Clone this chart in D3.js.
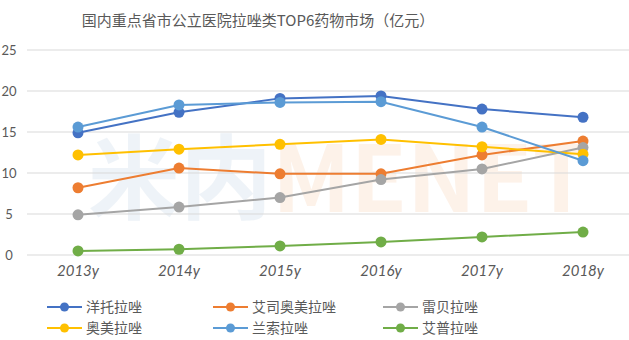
<!DOCTYPE html>
<html lang="zh">
<head>
  <meta charset="UTF-8">
  <title>拉唑类TOP6</title>
  <style>
    body { margin: 0; background: #fff; font-family: "Noto Sans CJK SC", sans-serif; }
    .grid line { stroke: #d9d9d9; stroke-width: 1; }
    .axis text { fill: #595959; }
    .legend text { fill: #595959; font-size: 14px; }
  </style>
  <script src="https://d3js.org/d3.v7.min.js"></script>
</head>
<body>
<div id="chart"></div>
<script>
var years = ["2013y", "2014y", "2015y", "2016y", "2017y", "2018y"];
var yTicks = [0, 5, 10, 15, 20, 25];
var names = ["洋托拉唑", "艾司奥美拉唑", "雷贝拉唑", "奥美拉唑", "兰索拉唑", "艾普拉唑"];
var colors = ["#4472c4", "#ed7d31", "#a5a5a5", "#ffc000", "#5b9bd5", "#70ad47"];
var yangtuo = [14.9, 17.4, 19.1, 19.4, 17.8, 16.8];
var aisi = [8.2, 10.6, 9.9, 9.9, 12.2, 13.9];
var leibei = [4.9, 5.85, 7.0, 9.2, 10.5, 13.1];
var aomei = [12.2, 12.9, 13.5, 14.1, 13.2, 12.3];
var lansuo = [15.6, 18.3, 18.6, 18.7, 15.6, 11.5];
var aipu = [0.5, 0.7, 1.1, 1.6, 2.2, 2.8];
var seriesValues = [yangtuo, aisi, leibei, aomei, lansuo, aipu];

var W = 629, H = 340;
var svg = d3.select("#chart").append("svg")
  .attr("width", W).attr("height", H);

var x = d3.scalePoint().domain(years).range([78, 583]);
var y = d3.scaleLinear().domain([0, 25]).range([255, 50]);

// title
svg.append("text")
  .attr("x", 258).attr("y", 26)
  .attr("text-anchor", "middle")
  .style("font-size", "15px")
  .style("fill", "#595959")
  .text("国内重点省市公立医院拉唑类TOP6药物市场（亿元）");

// watermark
var wm = svg.append("text")
  .attr("x", 88).attr("y", 212)
  .style("font-size", "92px")
  .style("font-weight", "bold")
  .style("font-family", "\"Noto Sans CJK SC\", sans-serif");
wm.append("tspan").style("fill", "#dbe6f0").style("opacity", 0.45).text("米内");
wm.append("tspan").style("fill", "#fbe3cf").style("opacity", 0.45).text("MENET");

// grid + y axis
var grid = svg.append("g").attr("class", "grid");
grid.selectAll("line").data(yTicks).enter().append("line")
  .attr("x1", 27).attr("x2", 629)
  .attr("y1", function (d) { return y(d); })
  .attr("y2", function (d) { return y(d); });

var yAxis = svg.append("g").attr("class", "axis");
yAxis.selectAll("text").data(yTicks).enter().append("text")
  .attr("x", 9).attr("y", function (d) { return y(d); })
  .attr("dy", "0.35em")
  .attr("text-anchor", "middle")
  .style("font-size", "13px")
  .style("font-family", "Lato, sans-serif")
  .text(function (d) { return d; });

var xAxis = svg.append("g").attr("class", "axis");
xAxis.selectAll("text").data(years).enter().append("text")
  .attr("x", function (d) { return x(d); })
  .attr("y", 276)
  .attr("text-anchor", "middle")
  .style("font-size", "15px")
  .style("font-style", "italic")
  .style("font-family", "Lato, sans-serif")
  .text(function (d) { return d; });

// lines
var line = d3.line()
  .x(function (d, i) { return x(years[i]); })
  .y(function (d) { return y(d); });

var series = svg.selectAll(".series").data(seriesValues).enter()
  .append("g").attr("class", "series");

series.append("path")
  .attr("d", line)
  .attr("fill", "none")
  .attr("stroke", function (d, i) { return colors[i]; })
  .attr("stroke-width", 2);

series.each(function (vals, si) {
  d3.select(this).selectAll("circle").data(vals).enter().append("circle")
    .attr("cx", function (d, i) { return x(years[i]); })
    .attr("cy", function (d) { return y(d); })
    .attr("r", 5.5)
    .attr("fill", colors[si]);
});

// legend
var legendX = [47, 213, 383];
var legendY = [307, 328];
var legend = svg.append("g").attr("class", "legend");
var items = legend.selectAll("g").data(names).enter().append("g")
  .attr("transform", function (d, i) {
    return "translate(" + legendX[i % 3] + "," + legendY[Math.floor(i / 3)] + ")";
  });
items.append("line")
  .attr("x1", 0).attr("x2", 35)
  .attr("stroke", function (d, i) { return colors[i]; })
  .attr("stroke-width", 2);
items.append("circle")
  .attr("cx", 17.5).attr("r", 4.5)
  .attr("fill", function (d, i) { return colors[i]; });
items.append("text")
  .attr("x", 39).attr("dy", "0.35em")
  .text(function (d) { return d; });
</script>
</body>
</html>
